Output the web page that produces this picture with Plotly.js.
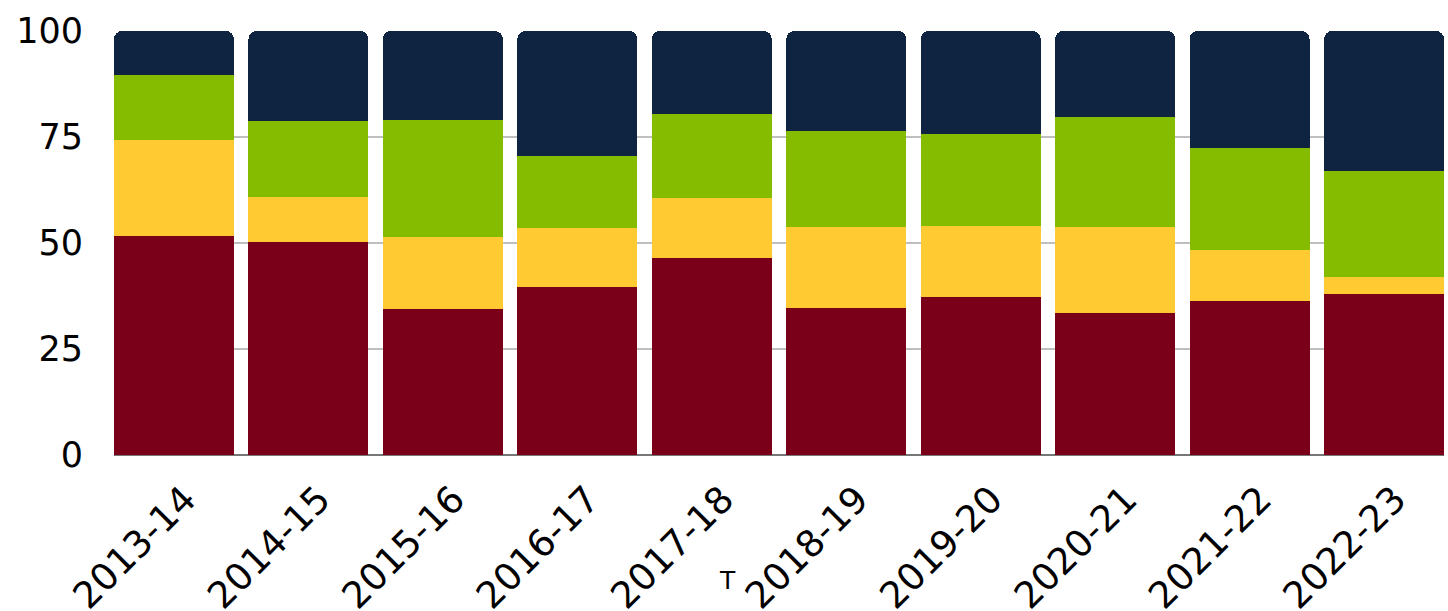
<!DOCTYPE html>
<html>
<head>
<meta charset="utf-8">
<script src="https://cdn.plot.ly/plotly-3.0.1.min.js"></script>
<style>html,body{margin:0;padding:0;background:#fff;}#chart{width:1448px;height:611px;}</style>
</head>
<body>
<div id="chart"></div>
<script>
const categories = ["2013-14","2014-15","2015-16","2016-17","2017-18","2018-19","2019-20","2020-21","2021-22","2022-23"];
const seriesRed    = [51.7, 50.3, 34.5, 39.7, 46.5, 34.7, 37.3, 33.6, 36.4, 38.0];
const seriesYellow = [22.7, 10.6, 17.0, 13.9, 14.2, 19.1, 16.8, 20.2, 12.0, 4.1];
const seriesGreen  = [15.3, 17.9, 27.6, 17.0, 19.8, 22.5, 21.7, 26.0, 24.1, 25.0];
const seriesNavy   = [10.3, 21.2, 20.9, 29.4, 19.5, 23.7, 24.2, 20.2, 27.5, 32.9];
const yTicks = [0, 25, 50, 75, 100];
const noteText = "T";

const colors = ["#7A001A", "#FFCA32", "#85BC00", "#0E2440"];
const all = [seriesRed, seriesYellow, seriesGreen, seriesNavy];
const traces = all.map((vals, i) => ({
  type: "bar",
  x: categories,
  y: vals,
  marker: {color: colors[i], line: {width: 0}},
  hoverinfo: "x+y"
}));

const fam = "DejaVu Sans, Verdana, sans-serif";
const layout = {
  width: 1448, height: 611,
  margin: {l: 114, r: 4, t: 31, b: 156, pad: 0},
  barmode: "stack",
  bargap: 0.108,
  barcornerradius: 8,
  showlegend: false,
  paper_bgcolor: "#fff",
  plot_bgcolor: "#fff",
  font: {family: fam, size: 34, color: "#000"},
  xaxis: {
    type: "category",
    range: [-0.446, 9.446],
    tickangle: -45,
    ticks: "",
    showgrid: false,
    zeroline: false,
    showline: false,
    tickfont: {family: fam, size: 37, color: "#000"},
    ticklabelstandoff: 14,
    ticklabelshift: 11,
    automargin: false
  },
  yaxis: {
    range: [0, 100],
    tickvals: yTicks,
    ticktext: yTicks.map(String),
    ticks: "",
    showgrid: true,
    gridcolor: "#BFBFBF",
    gridwidth: 2.5,
    zeroline: true,
    zerolinecolor: "#777",
    zerolinewidth: 2,
    showline: false,
    tickfont: {family: fam, size: 35, color: "#000"},
    ticklabelstandoff: 30,
    automargin: false
  },
  annotations: [{
    text: noteText,
    xref: "paper", yref: "paper",
    x: 0.461, y: -0.295,
    xanchor: "center", yanchor: "middle",
    showarrow: false,
    font: {family: fam, size: 25, color: "#000"}
  }]
};

Plotly.newPlot("chart", traces, layout, {displayModeBar: false, staticPlot: true});
</script>
</body>
</html>
